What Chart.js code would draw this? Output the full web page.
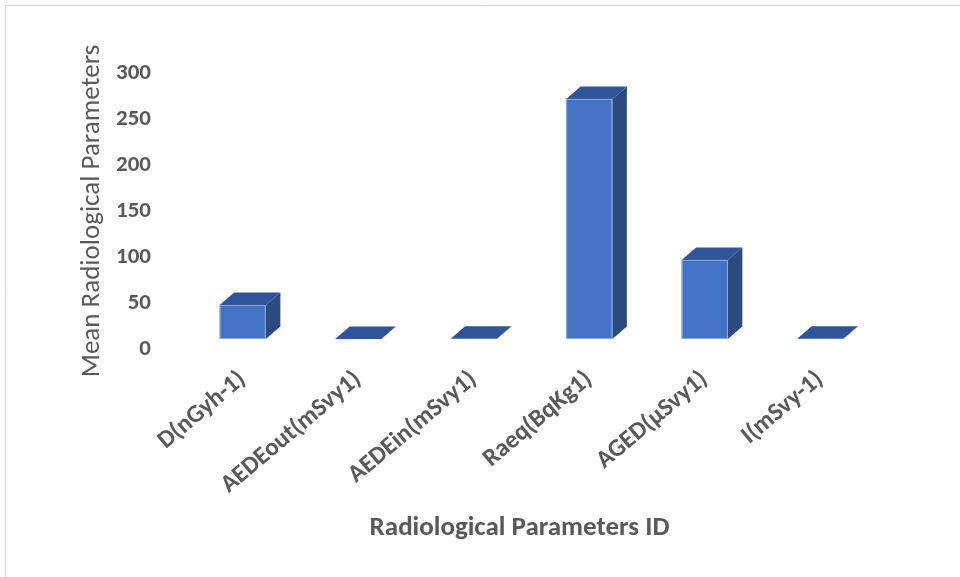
<!DOCTYPE html>
<html>
<head>
<meta charset="utf-8">
<script src="https://cdn.jsdelivr.net/npm/chart.js@4.4.1/dist/chart.umd.min.js"></script>
<style>
  html, body { margin: 0; padding: 0; background: #ffffff; }
  #wrap { position: relative; width: 960px; height: 577px; }
  canvas { display: block; }
</style>
</head>
<body>
<div id="wrap"><canvas id="chart" width="960" height="577"></canvas></div>
<script>
// Radiological parameter means
const categories = ['D(nGyh-1)', 'AEDEout(mSvy1)', 'AEDEin(mSvy1)', 'Raeq(BqKg1)', 'AGED(µSvy1)', 'I(mSvy-1)'];
const meanValues = [37, 0.05, 0.2, 261, 86, 0.3];
const yTicks = [0, 50, 100, 150, 200, 250, 300];
const xTitle = 'Radiological Parameters ID';
const yTitle = 'Mean Radiological Parameters';

const TEXT = '#595959';
const FONT = "Carlito, Calibri, Lato, sans-serif";

// 3D box look: front, top and side faces
const FRONT = '#4472C4';
const TOP = '#30549A';
const SIDE = '#2A4A80';
const DEPTH_X = 14.5;
const DEPTH_Y = 12.5;
const LIFT = 10; // floor sits a bit above the axis baseline in the projection

const frame = {
  id: 'frame',
  beforeDraw(chart) {
    const ctx = chart.ctx;
    ctx.save();
    ctx.fillStyle = '#ffffff';
    ctx.fillRect(0, 0, chart.width, chart.height);
    ctx.strokeStyle = '#d9d9d9';
    ctx.lineWidth = 1;
    ctx.beginPath();
    ctx.moveTo(5.5, chart.height + 2);
    ctx.lineTo(5.5, 5.5);
    ctx.lineTo(chart.width + 2, 5.5);
    ctx.stroke();
    ctx.restore();
  }
};

// category axis title, set slightly left of the plot centre
const xAxisTitle = {
  id: 'xAxisTitle',
  afterDraw(chart) {
    const ctx = chart.ctx;
    const x = chart.scales.x;
    ctx.save();
    ctx.fillStyle = TEXT;
    ctx.font = "bold 27px " + FONT;
    ctx.textAlign = 'center';
    ctx.textBaseline = 'middle';
    ctx.fillText(xTitle, (x.left + x.right) / 2 - 12, x.bottom - 18);
    ctx.restore();
  }
};

const boxes3d = {
  id: 'boxes3d',
  afterDatasetsDraw(chart) {
    const ctx = chart.ctx;
    const meta = chart.getDatasetMeta(0);
    ctx.save();
    meta.data.forEach((bar) => {
      const p = bar.getProps(['x', 'y', 'base', 'width'], true);
      const l = p.x - p.width / 2;
      const r = p.x + p.width / 2;
      const t = Math.min(p.y, p.base) - LIFT;
      const b = p.base - LIFT;
      // side face
      ctx.fillStyle = SIDE;
      ctx.beginPath();
      ctx.moveTo(r, t);
      ctx.lineTo(r + DEPTH_X, t - DEPTH_Y);
      ctx.lineTo(r + DEPTH_X, b - DEPTH_Y);
      ctx.lineTo(r, b);
      ctx.closePath();
      ctx.fill();
      // top face
      ctx.fillStyle = TOP;
      ctx.beginPath();
      ctx.moveTo(l, t);
      ctx.lineTo(l + DEPTH_X, t - DEPTH_Y);
      ctx.lineTo(r + DEPTH_X, t - DEPTH_Y);
      ctx.lineTo(r, t);
      ctx.closePath();
      ctx.fill();
      // front face
      if (b - t > 0.5) {
        ctx.fillStyle = FRONT;
        ctx.fillRect(l, t, r - l, b - t);
        ctx.strokeStyle = 'rgba(150,178,226,0.9)';
        ctx.lineWidth = 1;
        ctx.strokeRect(l + 0.5, t + 0.5, r - l - 1, b - t - 1);
      }
    });
    ctx.restore();
  }
};

new Chart(document.getElementById('chart'), {
  type: 'bar',
  data: {
    labels: categories,
    datasets: [{
      label: 'Mean',
      data: meanValues,
      backgroundColor: 'rgba(0,0,0,0)',
      borderWidth: 0,
      barPercentage: 0.4,
      categoryPercentage: 1.0
    }]
  },
  options: {
    responsive: false,
    animation: false,
    devicePixelRatio: 1,
    layout: { padding: { left: 72, right: 82, top: 73, bottom: 31 } },
    plugins: {
      legend: { display: false },
      tooltip: { enabled: false }
    },
    scales: {
      x: {
        grid: { display: false, drawTicks: false },
        border: { display: false },
        ticks: {
          color: TEXT,
          font: { family: FONT, size: 25, weight: 'bold' },
          minRotation: 40,
          maxRotation: 40,
          padding: 16,
          autoSkip: false
        },
        title: { display: false },
        afterFit(scale) { scale.height = 197; }
      },
      y: {
        min: 0,
        max: 300,
        grid: { display: false, drawTicks: false },
        border: { display: false },
        afterBuildTicks(scale) { scale.ticks = yTicks.map(v => ({ value: v })); },
        ticks: {
          color: TEXT,
          font: { family: FONT, size: 23, weight: 'bold' },
          padding: 34
        },
        title: {
          display: true,
          text: yTitle,
          color: TEXT,
          font: { family: FONT, size: 27, weight: 'normal' },
          padding: { top: 4, bottom: 4 }
        },
        afterFit(scale) { scale.width = 113; }
      }
    }
  },
  plugins: [frame, boxes3d, xAxisTitle]
});
</script>
</body>
</html>
